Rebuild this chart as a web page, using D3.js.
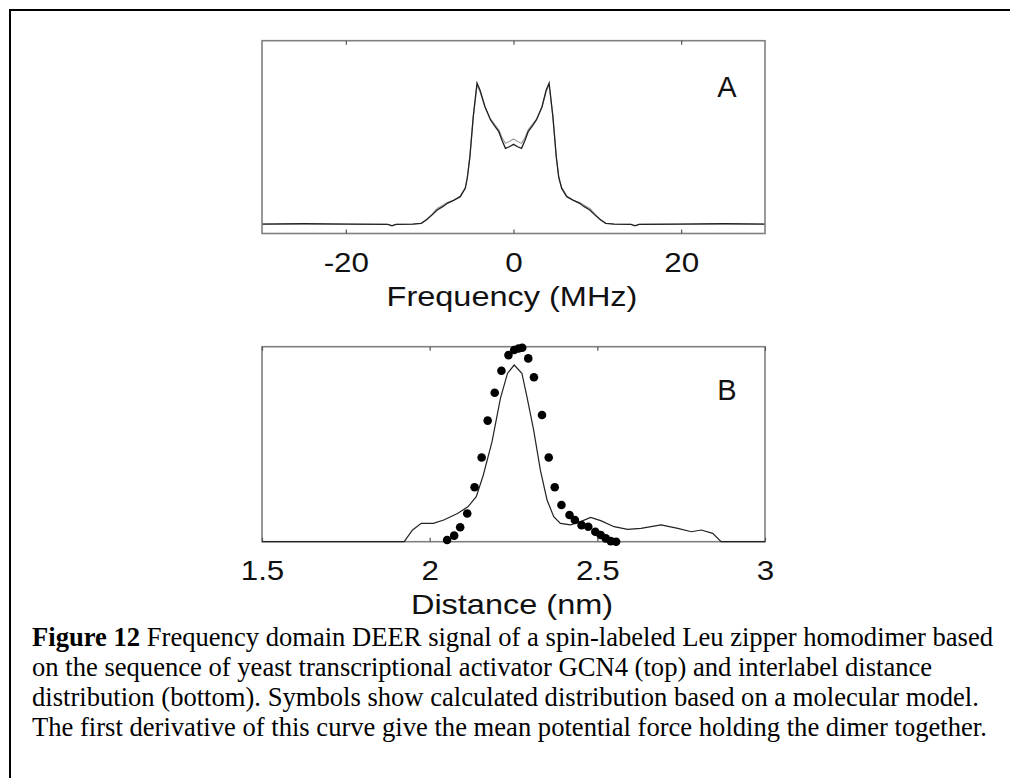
<!DOCTYPE html>
<html>
<head>
<meta charset="utf-8">
<script src="https://d3js.org/d3.v7.min.js"></script>
<style>
  body { margin: 0; background: #fff; }
  svg { display: block; }
</style>
</head>
<body>
<svg width="1010" height="778"></svg>
<script>
// ---- panel A: frequency domain DEER signal ----
var freq = [-30, -25, -20, -15, -14.5, -14, -12, -11, -10.4, -9.7, -9.1, -8.4, -7.9, -7.1, -6.35, -5.75, -5.5, -5.2, -4.8, -4.35, -4.0, -3.4, -2.75, -2.3, -1.75, -1.35, -0.96, -0.5, 0,
            0.5, 0.96, 1.35, 1.75, 2.3, 2.75, 3.4, 3.9, 4.25, 4.7, 5.1, 5.4, 5.75, 6.35, 7.1, 7.9, 8.4, 9.1, 9.7, 10.4, 11, 12, 14, 14.5, 15, 20, 25, 30];
var signalBlack = [0, 0.002, 0, -0.002, -0.012, -0.002, 0, 0.005, 0.028, 0.065, 0.1, 0.125, 0.147, 0.17, 0.194, 0.253, 0.33, 0.478, 0.762, 1.0, 0.95, 0.832, 0.74, 0.70, 0.655, 0.59, 0.537, 0.548, 0.565,
                   0.548, 0.537, 0.59, 0.655, 0.70, 0.74, 0.832, 0.95, 1.0, 0.762, 0.478, 0.33, 0.253, 0.194, 0.17, 0.147, 0.125, 0.1, 0.065, 0.028, 0.005, 0, -0.002, -0.012, -0.002, 0, 0.002, 0];
var signalGray = [0, 0.002, 0, -0.002, -0.01, -0.002, 0, 0.006, 0.032, 0.072, 0.11, 0.136, 0.152, 0.168, 0.2, 0.258, 0.335, 0.48, 0.76, 0.985, 0.94, 0.83, 0.745, 0.71, 0.668, 0.61, 0.572, 0.585, 0.603,
                  0.585, 0.572, 0.61, 0.668, 0.71, 0.745, 0.83, 0.94, 0.985, 0.76, 0.48, 0.335, 0.258, 0.2, 0.168, 0.152, 0.136, 0.11, 0.072, 0.032, 0.006, 0, -0.002, -0.01, -0.002, 0, 0.002, 0];
var freqTicks = [-20, 0, 20];

// ---- panel B: interlabel distance distribution ----
var dist = [1.5, 1.924, 1.949, 1.975, 2.011, 2.042, 2.083, 2.114, 2.139, 2.16, 2.186, 2.211, 2.232, 2.252, 2.275, 2.29, 2.31, 2.33, 2.35, 2.37, 2.39, 2.42, 2.45, 2.48, 2.51, 2.55, 2.59, 2.63, 2.69, 2.74, 2.78, 2.81, 2.844, 2.869, 3.0];
var distExp = [0, 0, 0.06, 0.094, 0.094, 0.111, 0.145, 0.179, 0.231, 0.342, 0.513, 0.735, 0.863, 0.906, 0.864, 0.744, 0.573, 0.368, 0.214, 0.128, 0.094, 0.086, 0.103, 0.125, 0.108, 0.077, 0.063, 0.068, 0.086, 0.068, 0.051, 0.06, 0.043, 0, 0];
var distModel = [2.052, 2.073, 2.091, 2.112, 2.134, 2.155, 2.173, 2.194, 2.214, 2.235, 2.252, 2.265, 2.276, 2.294, 2.311, 2.335, 2.355, 2.373, 2.393, 2.417, 2.433, 2.453, 2.473, 2.494, 2.51, 2.525, 2.54, 2.556];
var probModel = [0.009, 0.031, 0.074, 0.145, 0.279, 0.432, 0.621, 0.764, 0.877, 0.957, 0.983, 0.991, 0.995, 0.94, 0.843, 0.65, 0.432, 0.279, 0.188, 0.137, 0.111, 0.085, 0.077, 0.051, 0.034, 0.017, 0.003, 0];
var distTicks = [1.5, 2, 2.5, 3];

var captionLines = [
  ["Figure 12", " Frequency domain DEER signal of a spin-labeled Leu zipper homodimer based"],
  ["", "on the sequence of yeast transcriptional activator GCN4 (top) and interlabel distance"],
  ["", "distribution (bottom). Symbols show calculated distribution based on a molecular model."],
  ["", "The first derivative of this curve give the mean potential force holding the dimer together."]
];

var svg = d3.select("svg");
var sans = "'Liberation Sans', Arial, Helvetica, sans-serif";

// stretch text horizontally (the original glyphs are wider than Arial)
function stretch(sel, k) {
  sel.each(function() {
    var w = this.getComputedTextLength();
    d3.select(this).attr("textLength", w * k).attr("lengthAdjust", "spacingAndGlyphs");
  });
}

// outer figure box (right/bottom edges run off the page)
svg.append("rect")
  .attr("x", 10).attr("y", 10).attr("width", 1100).attr("height", 900)
  .attr("fill", "none").attr("stroke", "#000").attr("stroke-width", 2);

var left = 262, right = 765;

// ===== panel A =====
var xA = d3.scaleLinear().domain([-30, 30]).range([left, right]);
var yA = d3.scaleLinear().domain([-0.067, 1.30]).range([233.5, 40.7]);

var lineA = d3.line().x(function(d) { return xA(d[0]); }).y(function(d) { return yA(d[1]); });

var gA = svg.append("g");
gA.append("path")
  .datum(d3.zip(freq, signalGray))
  .attr("d", lineA).attr("fill", "none").attr("stroke", "#9a9a9a").attr("stroke-width", 1.1);
gA.append("path")
  .datum(d3.zip(freq, signalBlack))
  .attr("d", lineA).attr("fill", "none").attr("stroke", "#222").attr("stroke-width", 1.3);

gA.append("rect")
  .attr("x", left).attr("y", 40.7).attr("width", right - left).attr("height", 233.5 - 40.7)
  .attr("fill", "none").attr("stroke", "#808080").attr("stroke-width", 1.6);

var axA = gA.append("g").attr("transform", "translate(0,233.5)")
  .call(d3.axisBottom(xA).tickValues(freqTicks).tickSizeInner(-4).tickSizeOuter(0).tickFormat(function(d) { return String(d); }));
gA.append("g").attr("transform", "translate(0,40.7)")
  .call(d3.axisTop(xA).tickValues(freqTicks).tickSizeInner(-4).tickSizeOuter(0).tickFormat(""));

gA.append("text").attr("x", 727).attr("y", 97)
  .attr("text-anchor", "middle").attr("font-family", sans).attr("font-size", 29).attr("fill", "#111")
  .text("A");

gA.append("text").attr("x", 512).attr("y", 306)
  .attr("text-anchor", "middle").attr("font-family", sans).attr("font-size", 28).attr("fill", "#111")
  .text("Frequency (MHz)").call(stretch, 1.16);

// ===== panel B =====
var xB = d3.scaleLinear().domain([1.5, 3]).range([left, right]);
var yB = d3.scaleLinear().domain([0, 1]).range([541.7, 346.7]);

var lineB = d3.line().x(function(d) { return xB(d[0]); }).y(function(d) { return yB(d[1]); });

var gB = svg.append("g");
gB.append("rect")
  .attr("x", left).attr("y", 346.7).attr("width", right - left).attr("height", 541.7 - 346.7)
  .attr("fill", "none").attr("stroke", "#808080").attr("stroke-width", 1.6);

gB.append("path")
  .datum(d3.zip(dist, distExp))
  .attr("d", lineB).attr("fill", "none").attr("stroke", "#222").attr("stroke-width", 1.2);

var axB = gB.append("g").attr("transform", "translate(0,541.7)")
  .call(d3.axisBottom(xB).tickValues(distTicks).tickSizeInner(-4).tickSizeOuter(0).tickFormat(function(d) { return String(d); }));
gB.append("g").attr("transform", "translate(0,346.7)")
  .call(d3.axisTop(xB).tickValues(distTicks).tickSizeInner(-4).tickSizeOuter(0).tickFormat(""));

gB.selectAll("circle")
  .data(d3.zip(distModel, probModel))
  .join("circle")
  .attr("cx", function(d) { return xB(d[0]); })
  .attr("cy", function(d) { return yB(d[1]); })
  .attr("r", 4.3)
  .attr("fill", "#000");

gB.append("text").attr("x", 727).attr("y", 400)
  .attr("text-anchor", "middle").attr("font-family", sans).attr("font-size", 29).attr("fill", "#111")
  .text("B");

gB.append("text").attr("x", 512).attr("y", 614)
  .attr("text-anchor", "middle").attr("font-family", sans).attr("font-size", 28).attr("fill", "#111")
  .text("Distance (nm)").call(stretch, 1.16);

// axis styling: gray frame handled by rects, hide domain lines
svg.selectAll(".domain").remove();
svg.selectAll(".tick line").attr("stroke", "#555").attr("stroke-width", 1.2);
axA.selectAll("text").attr("y", 38).attr("dy", 0)
  .attr("font-family", sans).attr("font-size", 28).attr("fill", "#111").call(stretch, 1.12);
axB.selectAll("text").attr("y", 38).attr("dy", 0)
  .attr("font-family", sans).attr("font-size", 28).attr("fill", "#111").call(stretch, 1.12);

// ===== caption =====
var cap = svg.append("g").attr("font-family", "'Liberation Serif', 'Times New Roman', serif").attr("font-size", 26.6).attr("fill", "#000");
cap.selectAll("text")
  .data(captionLines)
  .join("text")
  .attr("x", 32)
  .attr("y", function(d, i) { return 646 + i * 30; })
  .each(function(d) {
    var t = d3.select(this);
    if (d[0]) t.append("tspan").attr("font-weight", "bold").text(d[0]);
    t.append("tspan").text(d[1]);
  });
</script>
</body>
</html>
